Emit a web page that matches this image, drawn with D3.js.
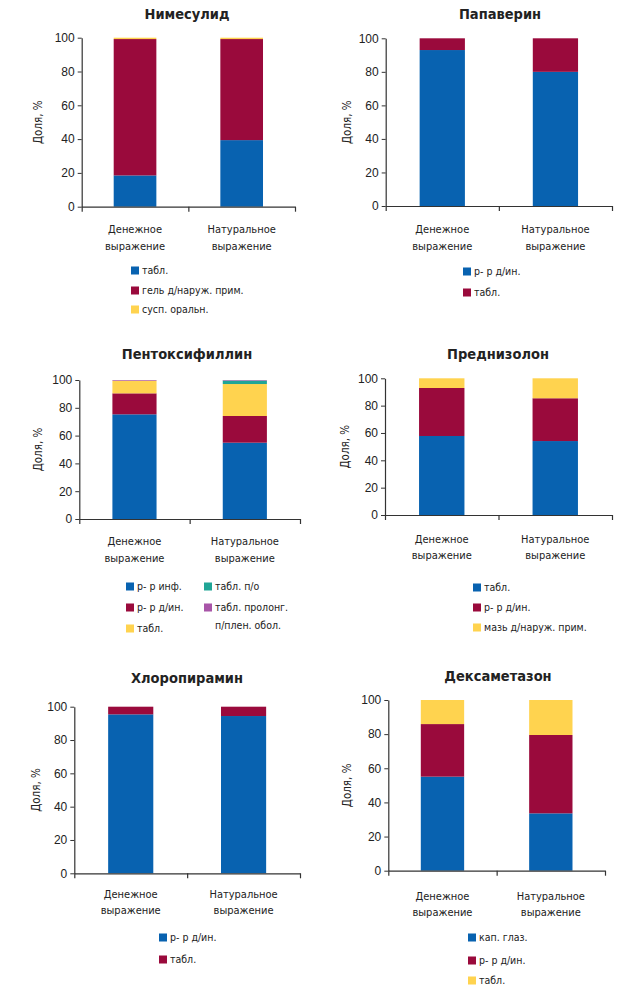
<!DOCTYPE html>
<html><head><meta charset="utf-8">
<script src="https://cdn.jsdelivr.net/npm/d3@7"></script>
<style>
html,body{margin:0;padding:0;background:#fff;}
svg{display:block;}
text{font-family:"Liberation Sans Narrow","Arial Narrow","DejaVu Sans Condensed",sans-serif;fill:#222;}
</style></head><body>
<svg id="c" width="640" height="992"></svg>
<script>
// ---------- DATA ----------
const categories = ["Денежное выражение", "Натуральное выражение"];
const yTicks = [0, 20, 40, 60, 80, 100];
const yLabel = "Доля, %";

const titles = ["Нимесулид", "Папаверин", "Пентоксифиллин", "Преднизолон", "Хлоропирамин", "Дексаметазон"];

const nimesulideSeries = ["табл.", "гель д/наруж. прим.", "сусп. оральн."];
const nimesulideValues = [[18.5, 80.7, 0.8], [39.4, 59.8, 0.8]];

const papaverineSeries = ["р- р д/ин.", "табл."];
const papaverineValues = [[93, 7], [80, 20]];

const pentoxSeries = ["р- р инф.", "р- р д/ин.", "табл.", "табл. п/о", "табл. пролонг. п/плен. обол."];
const pentoxValues = [[75.3, 15.1, 9.1, 0, 0.5], [54.9, 19.2, 23.0, 2.5, 0.4]];

const prednisoloneSeries = ["табл.", "р- р д/ин.", "мазь д/наруж. прим."];
const prednisoloneValues = [[57.8, 35.1, 7.1], [54.1, 31.3, 14.6]];

const chloropSeries = ["р- р д/ин.", "табл."];
const chloropValues = [[95.4, 4.6], [94.4, 5.6]];

const dexaSeries = ["кап. глаз.", "р- р д/ин.", "табл."];
const dexaValues = [[55.1, 30.8, 14.1], [33.6, 45.9, 20.5]];

// ---------- STYLE / LAYOUT ----------
const palette = ["#0862b0", "#9a0a3c", "#ffd34f", "#20a596", "#a855a8"];

const layouts = [
  {ax:81.7, xe:295, y100:37.7, y0:206.7, tx:187, ty:15, ylx:38, cy:[230,247], lg:{cols:[{x:131, rows:[271,291,310]}]}},
  {ax:385.7, xe:612, y100:38.3, y0:206, tx:500, ty:15, ylx:347, cy:[230,247], lg:{cols:[{x:463, rows:[272,293]}]}},
  {ax:79.3, xe:300, y100:380, y0:519, tx:187, ty:355, ylx:38, cy:[542,559], lg:{cols:[{x:126, rows:[587,608,629]},{x:204, rows:[587,608]}]}},
  {ax:385, xe:612, y100:378.3, y0:515, tx:498, ty:355, ylx:345, cy:[540,556], lg:{cols:[{x:473, rows:[588,608,628]}]}},
  {ax:74.3, xe:300, y100:706.7, y0:873.3, tx:187, ty:679, ylx:36, cy:[895,911], lg:{cols:[{x:159, rows:[938,960]}]}},
  {ax:388.3, xe:605, y100:700, y0:870.7, tx:498, ty:677, ylx:347, cy:[897,913], lg:{cols:[{x:468, rows:[938,961,981]}]}}
];

const panels = [
  {series: nimesulideSeries, values: nimesulideValues},
  {series: papaverineSeries, values: papaverineValues},
  {series: pentoxSeries, values: pentoxValues},
  {series: prednisoloneSeries, values: prednisoloneValues},
  {series: chloropSeries, values: chloropValues},
  {series: dexaSeries, values: dexaValues}
];

const svg = d3.select("#c");

panels.forEach((p, pi) => {
  const L = layouts[pi];
  const g = svg.append("g");

  const x = d3.scaleBand().domain(categories).range([L.ax, L.xe]).paddingInner(0.6).paddingOuter(0.3);
  const y = d3.scaleLinear().domain([0, 100]).range([L.y0, L.y100]);

  // stacked data
  const rows = categories.map((c, ci) => {
    const o = {cat: c};
    p.series.forEach((s, si) => o[s] = p.values[ci][si]);
    return o;
  });
  const stack = d3.stack().keys(p.series)(rows);

  stack.forEach((layer, li) => {
    g.append("g").attr("fill", palette[li])
      .selectAll("rect").data(layer).join("rect")
      .attr("x", d => x(d.data.cat))
      .attr("width", x.bandwidth())
      .attr("y", d => y(d[1]))
      .attr("height", d => Math.max(0, y(d[0]) - y(d[1])));
  });

  // y axis
  const yAxis = d3.axisLeft(y).tickValues(yTicks).tickSize(4).tickSizeOuter(0).tickPadding(3);
  const ya = g.append("g").attr("transform", `translate(${L.ax},0)`).call(yAxis);
  ya.select(".domain").attr("stroke", "#333").attr("stroke-width", 1.2);
  ya.selectAll(".tick line").attr("stroke", "#333");
  ya.selectAll(".tick text").style("font-size", "12px").attr("fill", "#222")
    .style("font-family", "'Liberation Sans Narrow','Arial Narrow',sans-serif");

  // x axis line with ticks at ends and middle
  const xa = d3.scaleLinear().domain([0, 2]).range([L.ax, L.xe]);
  const xAxis = d3.axisBottom(xa).tickValues([0, 1, 2]).tickSize(5).tickSizeOuter(0).tickFormat("");
  const xg = g.append("g").attr("transform", `translate(0,${L.y0})`).call(xAxis);
  xg.select(".domain").attr("stroke", "#333").attr("stroke-width", 1.2);
  xg.selectAll(".tick line").attr("stroke", "#333").attr("stroke-width", 1.2);

  // category labels (two lines)
  categories.forEach(c => {
    const parts = c.split(" ");
    const cx = x(c) + x.bandwidth() / 2;
    parts.forEach((t, k) => {
      g.append("text").attr("x", cx).attr("y", L.cy[k])
        .attr("text-anchor", "middle").attr("dominant-baseline", "middle")
        .style("font-size", "11px").attr("fill", "#333").text(t);
    });
  });

  // title
  g.append("text").attr("x", L.tx).attr("y", L.ty)
    .attr("text-anchor", "middle").attr("dominant-baseline", "middle")
    .style("font-size", "14.5px").style("font-weight", "bold")
    .style("font-family", "'DejaVu Sans Condensed','Liberation Sans Narrow',sans-serif")
    .attr("fill", "#111").text(titles[pi]);

  // y label
  const ylc = (L.y0 + L.y100) / 2;
  g.append("text").attr("transform", `translate(${L.ylx},${ylc}) rotate(-90)`)
    .attr("text-anchor", "middle").attr("dominant-baseline", "middle")
    .style("font-size", "11.5px").attr("fill", "#444").text(yLabel);

  // legend
  let si = 0;
  L.lg.cols.forEach(col => {
    col.rows.forEach((ry, ri) => {
      if (si >= p.series.length) return;
      const name = p.series[si];
      const lines = (pi === 2 && si === 4) ? ["табл. пролонг.", "п/плен. обол."] : [name];
      g.append("rect").attr("x", col.x).attr("y", ry - 4.5).attr("width", 8).attr("height", 8)
        .attr("fill", palette[si]);
      lines.forEach((t, k) => {
        g.append("text").attr("x", col.x + 11).attr("y", ry + k * 18)
          .attr("dominant-baseline", "middle").style("font-size", "10.5px").attr("fill", "#333").text(t);
      });
      si++;
    });
  });
});
</script>
</body></html>
